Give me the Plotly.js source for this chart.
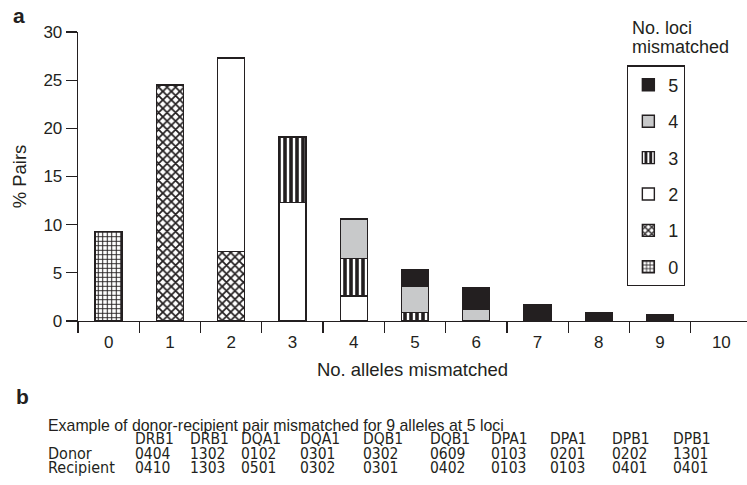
<!DOCTYPE html>
<html>
<head>
<meta charset="utf-8">
<script src="https://cdn.plot.ly/plotly-3.0.1.min.js"></script>
<style>html,body{margin:0;padding:0;background:#fff;}#chart{width:747px;height:485px;}</style>
</head>
<body>
<div id="chart"></div>
<script>
// ---- data ----
var allelesMismatched = ['0','1','2','3','4','5','6','7','8','9','10'];
var loci0 = [9.3, null, null, null, null, null, null, null, null, null, null];
var loci1 = [null, 24.5, 7.2, null, null, null, null, null, null, null, null];
var loci2 = [null, null, 20.1, 12.3, 2.6, null, null, null, null, null, null];
var loci3 = [null, null, null, 6.8, 3.9, 0.9, null, null, null, null, null];
var loci4 = [null, null, null, null, 4.1, 2.7, 1.2, null, null, null, null];
var loci5 = [null, null, null, null, null, 1.7, 2.3, 1.7, 0.9, 0.7, null];
var lociNames = ['0', '1', '2', '3', '4', '5'];
var yTicks = [0, 5, 10, 15, 20, 25, 30];

var tableCaption = 'Example of donor-recipient pair mismatched for 9 alleles at 5 loci';
var tableLoci = ['DRB1','DRB1','DQA1','DQA1','DQB1','DQB1','DPA1','DPA1','DPB1','DPB1'];
var donorAlleles = ['0404','1302','0102','0301','0302','0609','0103','0201','0202','1301'];
var recipientAlleles = ['0410','1303','0501','0302','0301','0402','0103','0103','0401','0401'];

// ---- geometry helpers ----
var W = 747, H = 485;
var mL = 77.7, mR = 0, mT = 31.7, mB = 164.3;
var pw = W - mL - mR, ph = H - mT - mB;
function px(x) { return (x - mL) / pw; }
function py(y) { return (H - mB - y) / ph; }

var ink = '#231f20';
var outline = {color: ink, width: 1.4};
var regular = 'Liberation Sans, Arial, sans-serif';
var narrow = 'Liberation Sans Narrow, Arial Narrow, DejaVu Sans Condensed, sans-serif';

function patt(shape, size, sol) {
  return {shape: shape, size: size, solidity: sol, fgcolor: ink, bgcolor: '#ffffff', fillmode: 'replace'};
}
var series = [loci0, loci1, loci2, loci3, loci4, loci5];
var markers = [
  {color: '#ffffff', line: outline, pattern: patt('+', 4.5, 0.4)},
  {color: '#ffffff', line: outline, pattern: patt('x', 6, 0.5)},
  {color: '#ffffff', line: outline},
  {color: '#ffffff', line: outline, pattern: patt('|', 6, 0.6)},
  {color: '#c8c9ca', line: outline},
  {color: ink, line: outline}
];

var traces = series.map(function (s, i) {
  return {
    type: 'bar', x: allelesMismatched, y: s, name: lociNames[i],
    legendgroup: 'g' + i, legendrank: 100 - 10 * i,
    marker: markers[i], hoverinfo: 'skip'
  };
});

var annotations = [
  {text: '<b>a</b>', x: px(19), y: py(15), font: {size: 21}},
  {text: '<b>b</b>', x: px(22), y: py(396), font: {size: 21}},
  {text: 'No. loci', x: px(631), y: py(28), xanchor: 'left', font: {size: 18}},
  {text: 'mismatched', x: px(631), y: py(47), xanchor: 'left', font: {size: 18}},
  {text: tableCaption, x: px(46.7), y: py(425.5), xanchor: 'left', font: {size: 15.9}},
  {text: 'Donor', x: px(46.7), y: py(453.3), xanchor: 'left', font: {size: 16, family: narrow}},
  {text: 'Recipient', x: px(46.7), y: py(467.5), xanchor: 'left', font: {size: 16, family: narrow}}
];
var colX = [133.3, 188.3, 240, 298.3, 361.7, 429.3, 490, 549.3, 611, 671.7];
for (var c = 0; c < tableLoci.length; c++) {
  annotations.push({text: tableLoci[c], x: px(colX[c]), y: py(439), xanchor: 'left', font: {size: 15.5, family: narrow}});
  annotations.push({text: donorAlleles[c], x: px(colX[c]), y: py(453.3), xanchor: 'left', font: {size: 15.5, family: narrow}});
  annotations.push({text: recipientAlleles[c], x: px(colX[c]), y: py(467.5), xanchor: 'left', font: {size: 15.5, family: narrow}});
}
annotations.forEach(function (a) {
  a.xref = 'paper'; a.yref = 'paper'; a.showarrow = false;
  if (!a.xanchor) a.xanchor = 'center';
  a.yanchor = 'middle'; a.borderpad = 0;
  a.font.color = ink;
  if (!a.font.family) a.font.family = regular;
});

var layout = {
  width: W, height: H,
  margin: {l: mL, r: mR, t: mT, b: mB, pad: 0},
  paper_bgcolor: '#ffffff', plot_bgcolor: '#ffffff',
  font: {family: regular, color: ink, size: 17},
  barmode: 'stack', bargap: 0.56,
  showlegend: true,
  legend: {
    x: px(627), y: py(65), xanchor: 'left', yanchor: 'top',
    traceorder: 'grouped', tracegroupgap: 10,
    bordercolor: ink, borderwidth: 1.3, bgcolor: '#ffffff',
    font: {size: 18, color: ink}, itemwidth: 30
  },
  xaxis: {
    type: 'category', range: [-0.5, -0.5 + pw / 61.3],
    tickson: 'boundaries', ticks: 'outside', ticklen: 11, tickwidth: 1.3, tickcolor: ink,
    showline: true, linecolor: ink, linewidth: 1.3, showgrid: false, zeroline: false,
    tickfont: {size: 17}, fixedrange: true, ticklabelstandoff: 5,
    title: {text: 'No. alleles mismatched', font: {size: 18.5}, standoff: 12}
  },
  yaxis: {
    range: [0, 30], tickvals: yTicks, ticks: 'outside', ticklen: 11, tickwidth: 1.3, tickcolor: ink,
    showline: true, linecolor: ink, linewidth: 1.3, showgrid: false, zeroline: false,
    tickfont: {size: 17}, fixedrange: true,
    title: {text: '% Pairs', font: {size: 18.5}, standoff: 12}
  },
  annotations: annotations
};

Plotly.newPlot('chart', traces, layout, {staticPlot: true, displayModeBar: false});
</script>
</body>
</html>
